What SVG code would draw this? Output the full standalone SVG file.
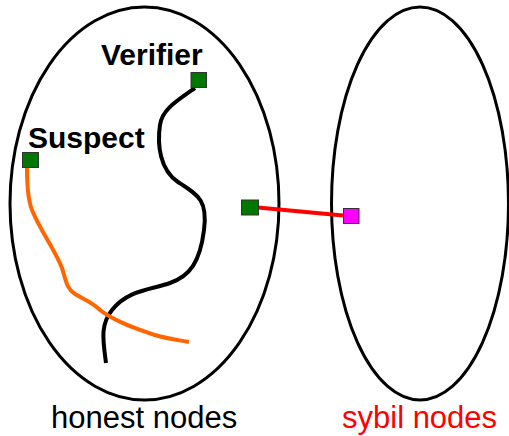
<svg xmlns="http://www.w3.org/2000/svg" width="509" height="436" viewBox="0 0 509 436">
<style>
.region{fill:none;stroke:#000;stroke-width:3}
.node{stroke:#333;stroke-width:1}
.lbl{font-family:"Liberation Sans",Arial,sans-serif;font-weight:bold;font-size:30px;fill:#000}
.cap{font-family:"Liberation Sans",Arial,sans-serif;font-size:31px}
</style>
<rect width="509" height="436" fill="#fff"/>
<g id="honest-region">
<ellipse class="region" cx="144.5" cy="203.5" rx="134.5" ry="196.5"/>
<text class="cap" x="51" y="428" fill="#000">honest nodes</text>
</g>
<g id="sybil-region">
<ellipse class="region" cx="420" cy="203.5" rx="88.5" ry="196.5"/>
<text class="cap" x="342" y="428" fill="#ff0000">sybil nodes</text>
</g>
<g id="connectors">
<path d="M195,88 C175,102 162,110 160,125 C157,145 160,170 178,182 C198,195 208,200 204,230 C200,262 190,276 170,283 C150,290 128,290 112,310 C100,325 103,340 106,363" fill="none" stroke="#000" stroke-width="4"/>
<path d="M27,168 C27,185 28,200 32,210 C40,230 55,250 62,268 C66,280 66,288 75,294 C85,300 92,302 100,310 C115,322 140,330 155,335 C168,339 178,340 189,342" fill="none" stroke="#ff6600" stroke-width="4"/>
<line x1="258" y1="207.5" x2="343" y2="215.5" stroke="#ff0000" stroke-width="4"/>
</g>
<g id="verifier">
<rect class="node" x="191" y="72.5" width="15.5" height="15" fill="#007700"/>
<text class="lbl" x="101" y="65">Verifier</text>
</g>
<g id="suspect">
<rect class="node" x="22.5" y="152.5" width="16" height="15" fill="#007700"/>
<text class="lbl" x="28" y="148">Suspect</text>
</g>
<g id="edge-honest">
<rect class="node" x="241.5" y="200" width="17" height="15" fill="#007700"/>
</g>
<g id="edge-sybil">
<rect class="node" x="343.5" y="208.5" width="15.5" height="15" fill="#ff00ff"/>
</g>
</svg>
